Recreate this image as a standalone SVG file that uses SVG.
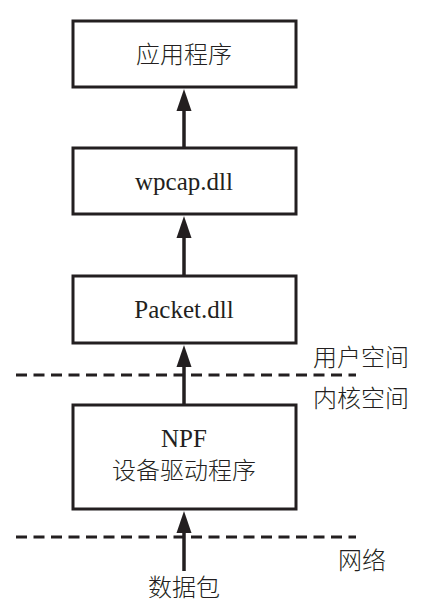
<svg xmlns="http://www.w3.org/2000/svg" width="428" height="616" viewBox="0 0 428 616">
<style>
.box{fill:#fff;stroke:#231f20;stroke-width:3}
.t{font-family:"Liberation Serif","Noto Sans CJK SC",serif;font-size:25px;fill:#231f20;text-anchor:middle}
.c{font-family:"Noto Sans CJK SC","Liberation Serif",sans-serif;font-size:24px;fill:#231f20;font-weight:300}
.arr{stroke:#231f20;stroke-width:3.5;fill:none;marker-end:url(#ah)}
.dash{stroke:#231f20;stroke-width:3;stroke-dasharray:11 6.5;fill:none}
</style>
<defs>
<marker id="ah" markerUnits="userSpaceOnUse" markerWidth="22" markerHeight="16" refX="12" refY="8" orient="auto" viewBox="0 0 22 16">
<path d="M22,8 L0,0.5 L0,15.5 Z" fill="#231f20"/>
</marker>
</defs>
<rect width="428" height="616" fill="#fff"/>
<g id="connectors">
<line class="arr" x1="184" y1="148" x2="184" y2="99"/>
<line class="arr" x1="184" y1="276" x2="184" y2="226"/>
<line class="arr" x1="184" y1="405" x2="184" y2="355"/>
<line class="arr" x1="184" y1="571" x2="184" y2="521"/>
<line class="dash" x1="16" y1="375" x2="356" y2="375"/>
<line class="dash" x1="16" y1="537" x2="356" y2="537"/>
</g>
<g id="app"><rect class="box" x="73" y="21" width="223" height="66"/><text class="c" x="184" y="63" text-anchor="middle">应用程序</text></g>
<g id="wpcap"><rect class="box" x="73" y="148" width="223" height="66"/><text class="t" x="184" y="190">wpcap.dll</text></g>
<g id="packet"><rect class="box" x="73" y="276" width="223" height="67"/><text class="t" x="184" y="318">Packet.dll</text></g>
<g id="npf"><rect class="box" x="73" y="405" width="223" height="104"/><text class="t" x="184" y="447">NPF</text><text class="c" x="184" y="479" text-anchor="middle">设备驱动程序</text></g>
<g id="labels">
<text class="c" x="313" y="366">用户空间</text>
<text class="c" x="313" y="407">内核空间</text>
<text class="c" x="338" y="569">网络</text>
<text class="c" x="184" y="596" text-anchor="middle">数据包</text>
</g>
</svg>
